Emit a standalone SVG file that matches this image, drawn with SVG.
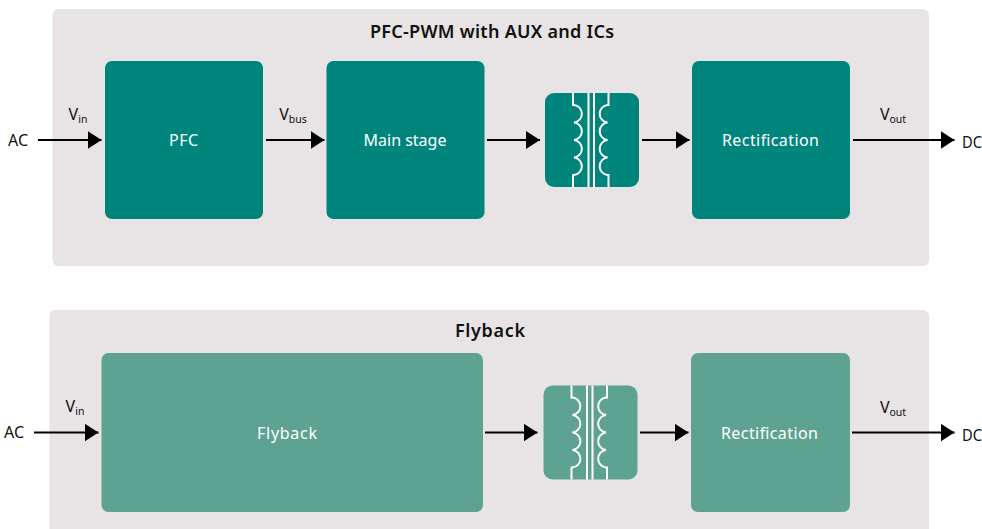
<svg xmlns="http://www.w3.org/2000/svg" width="982" height="529" viewBox="0 0 982 529">
<style>
text{font-family:"Noto Sans","Open Sans","Liberation Sans",sans-serif;fill:#111}
.panel{fill:#e8e3e4}
.dark{fill:#00857c}
.light{fill:#5ea392}
.label{fill:#fff;font-size:16px;text-anchor:middle}
.title{font-size:18px;font-weight:600;text-anchor:middle}
.io{font-size:16px}
.v{font-size:16px;text-anchor:middle}
.sub{font-size:10.500px}
.wire{stroke:#000;stroke-width:2;fill:none}
.coil{stroke:#fff;stroke-width:2;fill:none}
</style>
<defs>
<marker id="arrow" markerUnits="userSpaceOnUse" markerWidth="14" markerHeight="18" refX="14" refY="9" orient="auto"><path d="M0 0L14 9L0 18Z" fill="#000"/></marker>
<g id="xf">
<path class="coil" d="M28 0V12H29A8.800 8.800 0 0 1 29 29.500A8.800 8.800 0 0 1 29 47A8.800 8.800 0 0 1 29 64.500A8.800 8.800 0 0 1 29 82H28V94"/>
<path class="coil" d="M63.500 0V12H62.500A8.800 8.800 0 0 0 62.500 29.500A8.800 8.800 0 0 0 62.500 47A8.800 8.800 0 0 0 62.500 64.500A8.800 8.800 0 0 0 62.500 82H63.500V94"/>
<path class="coil" d="M43.500 0V94M49 0V94"/>
</g>
</defs>
<g id="panel-top"><rect class="panel" x="52.500" y="9" width="876.500" height="257" rx="6"/><text class="title" x="492" y="38" textLength="244">PFC-PWM with AUX and ICs</text></g>
<g id="panel-bottom"><rect class="panel" x="49.500" y="310" width="879.500" height="235" rx="6"/><text class="title" x="490" y="336.500" textLength="70">Flyback</text></g>
<g id="pfc"><rect class="dark" x="105" y="61" width="158" height="158" rx="7"/><text class="label" x="183.500" y="146" textLength="29">PFC</text></g>
<g id="main-stage"><rect class="dark" x="326.500" y="61" width="158" height="158" rx="7"/><text class="label" x="405" y="146">Main stage</text></g>
<g id="transformer-top"><rect class="dark" x="545" y="93" width="94" height="94" rx="9"/><use href="#xf" x="545" y="93"/></g>
<g id="rectification-top"><rect class="dark" x="692" y="61" width="158" height="158" rx="7"/><text class="label" x="770.500" y="146" textLength="97">Rectification</text></g>
<g id="flyback"><rect class="light" x="101.500" y="353" width="381.500" height="159" rx="7"/><text class="label" x="287" y="438.500" textLength="60">Flyback</text></g>
<g id="transformer-bottom"><rect class="light" x="543.500" y="385.500" width="94" height="94" rx="9"/><use href="#xf" x="543.500" y="385.500"/></g>
<g id="rectification-bottom"><rect class="light" x="691" y="353" width="159" height="159" rx="7"/><text class="label" x="769.500" y="438.500" textLength="97">Rectification</text></g>
<g id="connectors">
<path class="wire" marker-end="url(#arrow)" d="M38 140H101.500"/>
<path class="wire" marker-end="url(#arrow)" d="M266 140H324.500"/>
<path class="wire" marker-end="url(#arrow)" d="M487 140H540"/>
<path class="wire" marker-end="url(#arrow)" d="M642 140H689.500"/>
<path class="wire" marker-end="url(#arrow)" d="M853 140H954.500"/>
<path class="wire" marker-end="url(#arrow)" d="M34 432.500H98.500"/>
<path class="wire" marker-end="url(#arrow)" d="M485 432.500H537.500"/>
<path class="wire" marker-end="url(#arrow)" d="M640 432.500H688.500"/>
<path class="wire" marker-end="url(#arrow)" d="M852 432.500H954.500"/>
</g>
<g id="labels">
<text class="io" x="8" y="146">AC</text>
<text class="io" x="962" y="148" textLength="20" lengthAdjust="spacingAndGlyphs">DC</text>
<text class="io" x="4" y="438">AC</text>
<text class="io" x="962" y="441" textLength="20" lengthAdjust="spacingAndGlyphs">DC</text>
<text class="v" x="78" y="120">V<tspan class="sub" dy="3">in</tspan></text>
<text class="v" x="293" y="120">V<tspan class="sub" dy="3">bus</tspan></text>
<text class="v" x="893" y="120">V<tspan class="sub" dy="3">out</tspan></text>
<text class="v" x="75" y="412">V<tspan class="sub" dy="3">in</tspan></text>
<text class="v" x="893" y="413">V<tspan class="sub" dy="3">out</tspan></text>
</g>
</svg>
